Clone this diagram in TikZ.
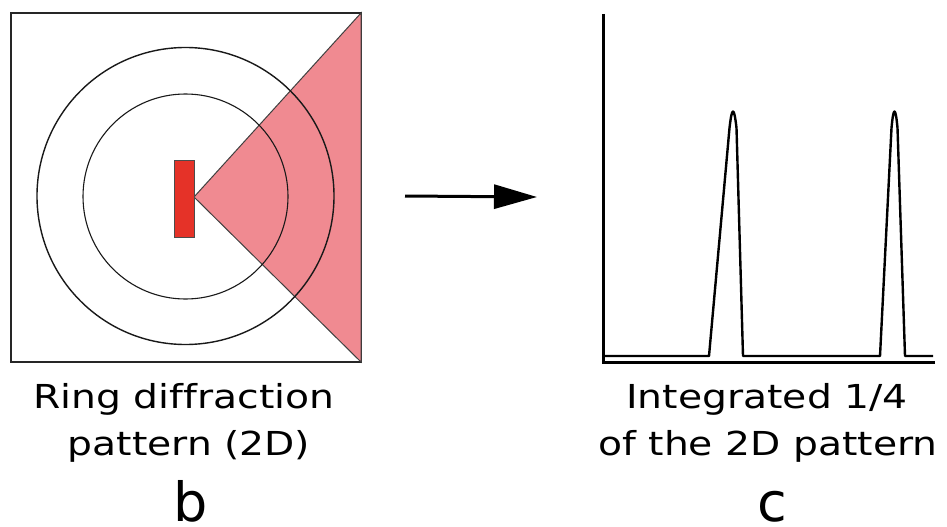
\documentclass[tikz,border=0pt]{standalone}
\usepackage{fontspec}
\setmainfont[Ligatures=NoCommon]{DejaVu Sans}
\newfontfamily\capfont[Ligatures=NoCommon,FakeStretch=1.19]{DejaVu Sans}
\usetikzlibrary{arrows.meta}
\definecolor{wedgepink}{RGB}{240,138,145}
\definecolor{beamred}{RGB}{229,50,40}
\tikzset{
  frameline/.style={draw=black!85, line width=1.5pt},
  ringline/.style={draw=black!90, line width=1.4pt},
  axisline/.style={draw=black, line width=3pt},
  curveline/.style={draw=black, line width=2.4pt, line join=round},
  caption/.style={anchor=base, inner sep=0pt, font=\capfont\fontsize{33}{33}\selectfont},
  letter/.style={anchor=base, inner sep=0pt, font=\fontsize{54}{54}\selectfont}
}
\begin{document}
\begin{tikzpicture}[x=1pt,y=-1pt]
\useasboundingbox (0,0) rectangle (947,527);
% panel b
\draw[frameline, fill=white] (11,13) rectangle (361,362);
\coordinate (apex) at (194,197);
\coordinate (tr) at (361,13);
\coordinate (br) at (361,362);
\draw[fill=wedgepink, draw=black!75, line width=1pt] (apex) -- (tr) -- (br) -- cycle;
\draw[ringline] (185.5,196) circle (148.5);
\draw[ringline, line width=1.1pt] (185.5,196.5) circle (102.5);
\draw[fill=beamred, draw=black!70, line width=1pt] (174,160) rectangle (194,237);
% arrow
\coordinate (arrS) at (405,196);
\coordinate (arrE) at (537,197);
\draw[line width=3pt, -{Triangle[length=43pt,width=24pt]}] (arrS) -- (arrE);
% panel c
\coordinate (ytop) at (603,14);
\coordinate (orig) at (603,362);
\coordinate (xend) at (935,362);
\draw[axisline] (ytop) -- (orig) -- (xend);
\draw[curveline] (604,356) -- (709,356) -- (729.5,128) .. controls (732,106) and (734,106) .. (736.5,128) -- (743,356)
  -- (880,356) -- (891.5,128) .. controls (893.5,106) and (895.5,106) .. (897.5,128) -- (905,356) -- (933,356);
% captions
\node[caption] (b1) at (184,408) {Ring diffraction};
\node[caption] (b2) at (189,455) {pattern (2D)};
\node[letter] (bl) at (191,521.5) {b};
\node[caption] (c1) at (767,408) {Integrated 1/4};
\node[caption] (c2) at (768,455) {of the 2D pattern};
\node[letter] (cl) at (772,521.5) {c};
\end{tikzpicture}
\end{document}
